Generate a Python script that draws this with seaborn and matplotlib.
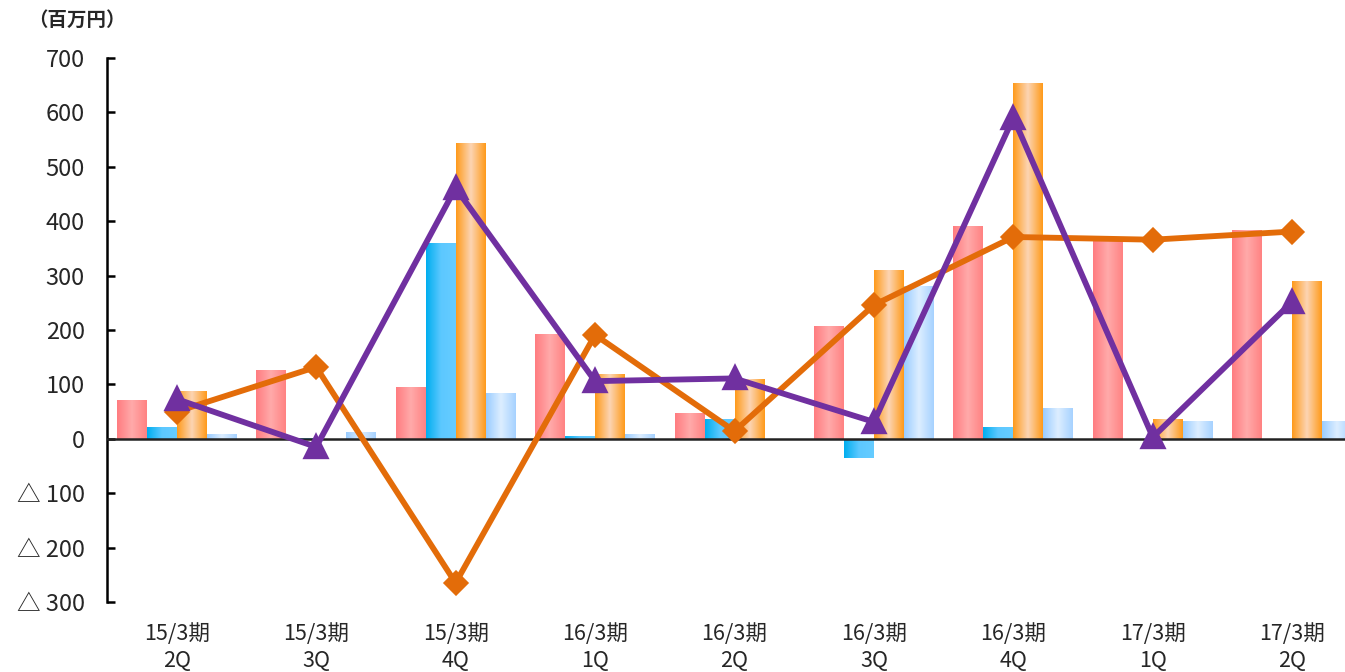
import numpy as np
import pandas as pd
import matplotlib
matplotlib.use("Agg")
import matplotlib.pyplot as plt
import seaborn as sns
from matplotlib.colors import LinearSegmentedColormap

# =====================================
# Data (百万円)
# =====================================

categories = [
    "15/3期\n2Q", "15/3期\n3Q", "15/3期\n4Q",
    "16/3期\n1Q", "16/3期\n2Q", "16/3期\n3Q",
    "16/3期\n4Q", "17/3期\n1Q", "17/3期\n2Q",
]

bar_pink = [72, 127, 96, 193, 48, 208, 391, 365, 384]
bar_blue = [22, 2, 360, 5, 37, -35, 22, 0, 0]
bar_orange = [88, 0, 544, 120, 110, 310, 654, 37, 290]
bar_lightblue = [9, 13, 85, 9, 0, 280, 57, 33, 33]

line_orange = [50, 132, -265, 191, 14, 246, 371, 366, 381]
line_purple = [73, -15, 461, 106, 111, 31, 590, 3, 252]

series_names = ["系列1", "系列2", "系列3", "系列4"]

y_ticks = [700, 600, 500, 400, 300, 200, 100, 0, -100, -200, -300]
y_tick_labels = ["700", "600", "500", "400", "300", "200", "100", "0",
                 "△ 100", "△ 200", "△ 300"]

# =====================================
# Style
# =====================================

sns.set_style("white")
plt.rcParams["font.family"] = ["Noto Sans CJK JP", "DejaVu Sans"]

gradients = [
    ["#FF7C80", "#FFAAAA", "#FF8282"],
    ["#00AEEF", "#5CC8FF", "#66CCFF"],
    ["#FF9A1A", "#FCD5B4", "#FF9A1A"],
    ["#99CCFF", "#DDEEFF", "#A6D2FF"],
]

# =====================================
# Long-form table for seaborn
# =====================================

df = pd.DataFrame({
    "period": categories * 4,
    "series": np.repeat(series_names, len(categories)),
    "value": bar_pink + bar_blue + bar_orange + bar_lightblue,
})

fig = plt.figure(figsize=(13.45, 6.72), dpi=100)
ax = fig.add_axes([107 / 1345, 1 - 602 / 672, 1255 / 1345, 544 / 672])

sns.barplot(
    data=df, x="period", y="value", hue="series",
    order=categories, hue_order=series_names,
    width=0.86, gap=0, legend=False, ax=ax,
)

# gradient fills clipped to the bars
bar_containers = list(ax.containers)
grad = np.linspace(0, 1, 128).reshape(1, -1)
for cont, stops in zip(bar_containers, gradients):
    cmap = LinearSegmentedColormap.from_list("g", stops)
    for bar in cont:
        h = bar.get_height()
        bar.set_facecolor("none")
        bar.set_edgecolor("none")
        if h == 0:
            continue
        x0 = bar.get_x()
        w = bar.get_width()
        y0 = bar.get_y()
        im = ax.imshow(
            grad, cmap=cmap, aspect="auto", interpolation="bilinear",
            extent=(x0, x0 + w, min(y0, y0 + h), max(y0, y0 + h)),
            zorder=1,
        )
        im.set_clip_path(bar)

ax.axhline(0, color="#222222", lw=1.8, zorder=2.5)

# lines
sns.pointplot(
    x=categories, y=line_orange, ax=ax, color="#E36C09",
    markers="D", markersize=10.5, linewidth=4.2, errorbar=None,
)
sns.pointplot(
    x=categories, y=line_purple, ax=ax, color="#7030A0",
    markers="^", markersize=14, linewidth=4.2, errorbar=None,
)
for i, ln in enumerate(ax.lines[1:]):
    ln.set_zorder(4 + i)

# =====================================
# Axes
# =====================================

ax.set_xlim(-0.5, len(categories) - 0.5)
ax.set_ylim(-300, 700)
ax.set_yticks(y_ticks)
ax.set_yticklabels(y_tick_labels, fontsize=17)
ax.set_xticks(range(len(categories)))
ax.set_xticklabels(categories, fontsize=15.5, linespacing=1.32)
ax.set_xlabel("")
ax.set_ylabel("")

ax.tick_params(axis="y", direction="in", length=6, width=1.8, pad=16,
               color="black", left=True)
ax.tick_params(axis="x", length=0, pad=15)

for s in ["top", "right", "bottom"]:
    ax.spines[s].set_visible(False)
ax.spines["left"].set_color("black")
ax.spines["left"].set_linewidth(1.8)
ax.grid(False)

fig.text(28 / 1345, 1 - 20 / 672, "（百万円）", fontsize=14,
         fontweight="bold", va="center", ha="left")

plt.savefig("out.png", dpi=100)
plt.close()
